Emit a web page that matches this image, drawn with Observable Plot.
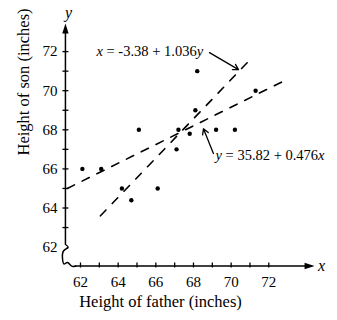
<!DOCTYPE html>
<html><head><meta charset="utf-8">
<script src="https://cdn.jsdelivr.net/npm/d3@7"></script>
<script src="https://cdn.jsdelivr.net/npm/@observablehq/plot@0.6"></script>
<style>body{margin:0;background:#fff}</style>
</head><body><div id="chart"></div>
<script>
// Observed points (father, son)
const fatherHeights = [62.1, 63.1, 64.2, 64.7, 65.1, 66.1, 67.1, 67.2, 67.8, 68.1, 68.2, 69.2, 70.2, 71.3];
const sonHeights    = [66.0, 66.0, 65.0, 64.4, 68.0, 65.0, 67.0, 68.0, 67.8, 69.0, 71.0, 68.0, 68.0, 70.0];
// tick values
const xTickLabels = [62, 64, 66, 68, 70, 72];
const yTickLabels = [62, 64, 66, 68, 70, 72];
const xTickMarks = [62, 63, 64, 65, 66, 67, 68, 69, 70, 71, 72];
const yTickMarks = [63, 64, 65, 66, 67, 68, 69, 70, 71, 72];
// regression lines, endpoints as drawn
const lineYonXx = [61.3, 72.7];   // y = 35.82 + 0.476x
const lineYonXy = [65.0, 70.45];
const lineXonYx = [63.06, 71.17]; // x = -3.38 + 1.036y
const lineXonYy = [63.6, 71.75];
// annotations
const eqLabels = ["x = -3.38 + 1.036y", "y = 35.82 + 0.476x"];
const eqX = [62.85, 69.17];
const eqY = [72.0, 66.68];
const arrowX1 = [68.85, 69.06], arrowY1 = [71.95, 66.79];
const arrowX2 = [70.39, 68.53], arrowY2 = [71.08, 68.05];
// axes geometry (data units)
const xAxisAtY = 61.033, yAxisAtX = 61.2;
const breakX = [61.2, 61.336, 61.097, 61.044, 61.124, 61.31, 61.522, 61.734];
const breakY = [62.133, 61.979, 61.80, 61.417, 61.136, 61.21, 61.033, 61.033];

const points = fatherHeights.map((f, i) => ({father: f, son: sonHeights[i]}));
const line1 = lineYonXx.map((x, i) => ({x, y: lineYonXy[i]}));
const line2 = lineXonYx.map((x, i) => ({x, y: lineXonYy[i]}));
const eqs = eqLabels.map((t, i) => ({t, x: eqX[i], y: eqY[i]}));
const arrows = arrowX1.map((x1, i) => ({x1, y1: arrowY1[i], x2: arrowX2[i], y2: arrowY2[i]}));
const brk = breakX.map((x, i) => ({x, y: breakY[i]}));

const tickV = {draw(c){ c.moveTo(0, -3.5); c.lineTo(0, 1.5); }};
const tickH = {draw(c){ c.moveTo(-3, 0); c.lineTo(3, 0); }};
const headUp = {draw(c){ c.moveTo(0, 0); c.lineTo(-3.2, 10); c.lineTo(3.2, 10); c.closePath(); }};
const headRight = {draw(c){ c.moveTo(0, 0); c.lineTo(-10, -3.2); c.lineTo(-10, 3.2); c.closePath(); }};

const plot = Plot.plot({
  width: 337, height: 320, margin: 0,
  style: {fontFamily: "'Liberation Serif', serif", color: "black", background: "white", overflow: "visible"},
  x: {domain: [62, 72], range: [80, 268.3], axis: null},
  y: {domain: [62, 72], range: [246.6, 51.1], axis: null},
  marks: [
    // axes
    Plot.ruleX([yAxisAtX], {y1: 62.133, y2: 73.0, stroke: "black", strokeWidth: 1.5}),
    Plot.ruleY([xAxisAtY], {x1: 61.734, x2: 74.1, stroke: "black", strokeWidth: 1.5}),
    Plot.line(brk, {x: "x", y: "y", curve: "natural", stroke: "black", strokeWidth: 1.5}),
    Plot.dot([0], {x: yAxisAtX, y: 73.44, symbol: headUp, fill: "black", stroke: "none"}),
    Plot.dot([0], {x: 74.43, y: xAxisAtY, symbol: headRight, fill: "black", stroke: "none"}),
    Plot.dot(xTickMarks, {x: d => d, y: xAxisAtY, symbol: tickV, fill: "none", stroke: "black", strokeWidth: 1.3}),
    Plot.dot(yTickMarks, {x: yAxisAtX, y: d => d, symbol: tickH, fill: "none", stroke: "black", strokeWidth: 1.3}),
    Plot.text(xTickLabels, {x: d => d, y: xAxisAtY, dy: 16, text: d => String(d), fontSize: 15}),
    Plot.text(yTickLabels, {x: yAxisAtX, y: d => d, dx: -8, textAnchor: "end", text: d => String(d), fontSize: 15}),
    Plot.text(["y"], {x: 61.36, y: 74.0, text: d => d, fontSize: 16, fontStyle: "italic"}),
    Plot.text(["x"], {x: 74.8, y: 61.06, text: d => d, fontSize: 16, fontStyle: "italic"}),
    Plot.text(["Height of father (inches)"], {frameAnchor: "bottom", dx: -8.5, dy: -14, text: d => d, fontSize: 16.5}),
    Plot.text(["Height of son (inches)"], {frameAnchor: "left", dx: 23, dy: -5, rotate: -90, text: d => d, fontSize: 16.5}),
    // regression lines
    Plot.line(line1, {x: "x", y: "y", stroke: "black", strokeWidth: 1.6, strokeDasharray: "8,8.5"}),
    Plot.line(line2, {x: "x", y: "y", stroke: "black", strokeWidth: 1.6, strokeDasharray: "8,9"}),
    // data
    Plot.dot(points, {x: "father", y: "son", r: 2.2, fill: "black", stroke: "none"}),
    // annotations
    Plot.arrow(arrows, {x1: "x1", y1: "y1", x2: "x2", y2: "y2", stroke: "black", strokeWidth: 1.3, headLength: 7}),
    Plot.text(eqs, {x: "x", y: "y", text: "t", textAnchor: "start", fontSize: 14.5})
  ]
});

// italicize the variables in the equations
plot.querySelectorAll("text").forEach(t => {
  const s = t.textContent;
  if (s === eqLabels[0] || s === eqLabels[1]) {
    const first = s[0], last = s[s.length - 1], mid = s.slice(1, -1);
    t.textContent = "";
    const ns = "http://www.w3.org/2000/svg";
    const a = document.createElementNS(ns, "tspan"); a.setAttribute("font-style", "italic"); a.textContent = first;
    const b = document.createElementNS(ns, "tspan"); b.textContent = mid;
    const c = document.createElementNS(ns, "tspan"); c.setAttribute("font-style", "italic"); c.textContent = last;
    t.append(a, b, c);
  }
});
document.getElementById("chart").append(plot);
</script>
</body></html>
